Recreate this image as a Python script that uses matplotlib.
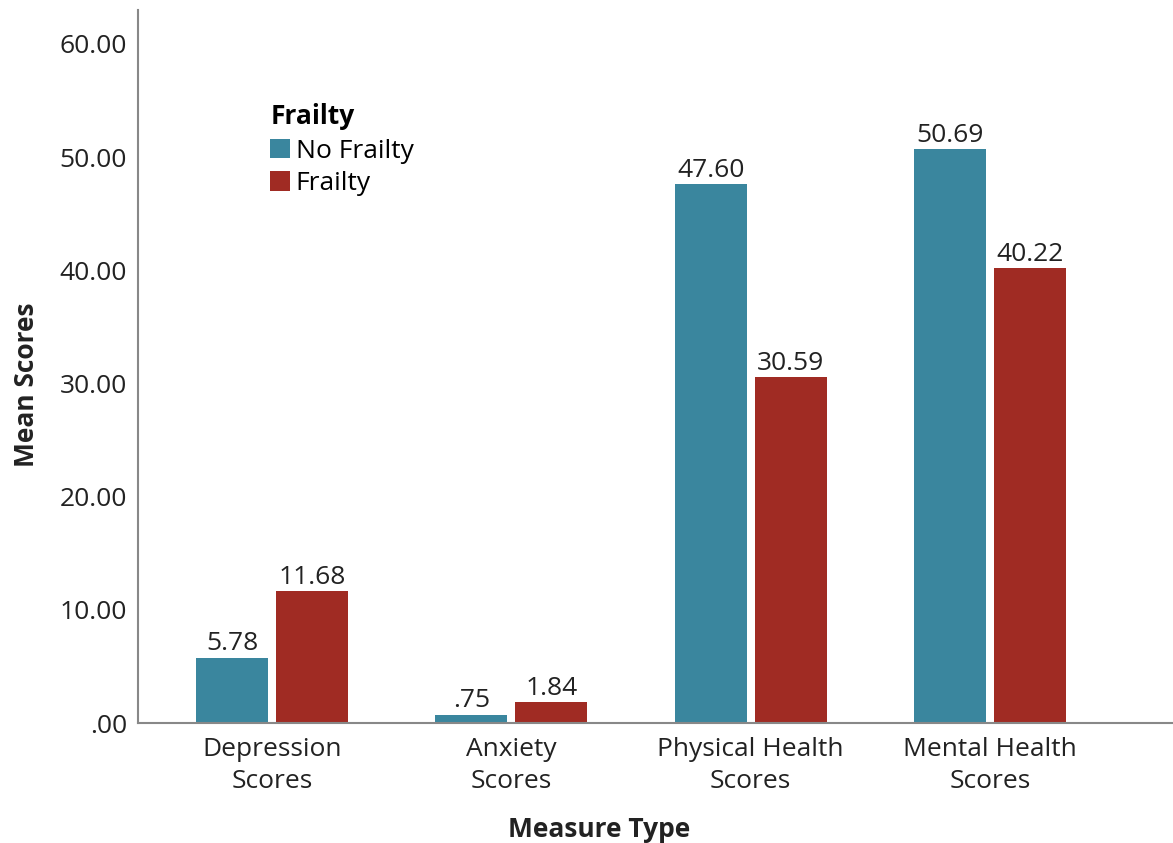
import matplotlib
matplotlib.use('Agg')
import matplotlib.pyplot as plt
import numpy as np

plt.rcParams['font.family'] = ['Open Sans', 'DejaVu Sans']

categories = ['Depression\nScores', 'Anxiety\nScores', 'Physical Health\nScores', 'Mental Health\nScores']
no_frailty = [5.78, 0.75, 47.60, 50.69]
frailty = [11.68, 1.84, 30.59, 40.22]
yticks = [0, 10, 20, 30, 40, 50, 60]


def fmt(v):
    s = '%.2f' % v
    return s[1:] if s.startswith('0') else s


fs = 19
fig = plt.figure(figsize=(11.73, 8.43), dpi=100)
ax = fig.add_axes([0.1176, 0.1423, 0.8824, 0.8458])

x = np.arange(len(categories))
w = 0.30
off = 0.167
b1 = ax.bar(x - off, no_frailty, w, color='#3A869E', label='No Frailty')
b2 = ax.bar(x + off, frailty, w, color='#A02B23', label='Frailty')

for bars, vals in ((b1, no_frailty), (b2, frailty)):
    for r, v in zip(bars, vals):
        ax.text(r.get_x() + r.get_width() / 2, v + 0.1, fmt(v), ha='center', va='bottom',
                fontsize=fs, color='#222222')

ax.set_xlim(-0.56, 3.764)
ax.set_ylim(0, 63)
ax.set_xticks(x)
ax.set_xticklabels(categories, fontsize=fs, color='#222222', linespacing=1.35)
ax.set_yticks(yticks)
ax.set_yticklabels([fmt(v) for v in yticks], fontsize=fs, color='#222222')
ax.tick_params(length=0)
ax.tick_params(axis='x', pad=10)
ax.tick_params(axis='y', pad=8)

for s in ('top', 'right'):
    ax.spines[s].set_visible(False)
for s in ('left', 'bottom'):
    ax.spines[s].set_color('#888888')
    ax.spines[s].set_linewidth(1.5)

ax.set_xlabel('Measure Type', fontsize=fs, fontweight='bold', color='#222222')
ax.set_ylabel('Mean Scores', fontsize=fs, fontweight='bold', color='#222222', labelpad=14)
ax.xaxis.set_label_coords(0.446, -0.13)
ax.yaxis.label.set_y(0.474)

leg = ax.legend(title='Frailty', loc='upper left', bbox_to_anchor=(0.128, 0.869), frameon=False,
                fontsize=fs, handlelength=0.75, handleheight=0.75, handletextpad=0.2,
                labelspacing=0.28, borderaxespad=0, borderpad=0)
leg.get_title().set_fontweight('bold')
leg.get_title().set_fontsize(fs)
leg._legend_box.align = 'left'
leg._legend_box.sep = 6

fig.savefig('out.png', dpi=100)
